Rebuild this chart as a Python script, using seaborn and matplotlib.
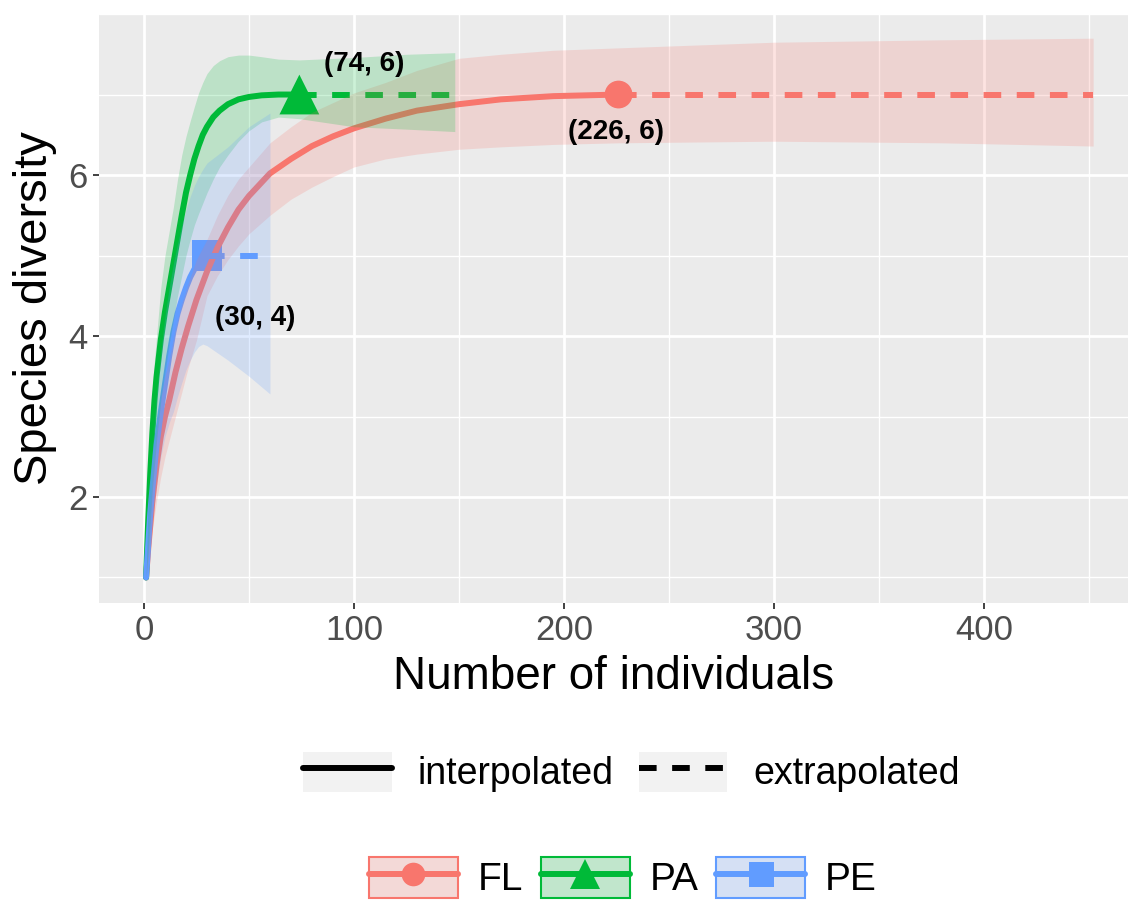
import pandas as pd
import seaborn as sns
import matplotlib.pyplot as plt
from matplotlib.lines import Line2D
from matplotlib.patches import Patch
from matplotlib.ticker import MultipleLocator

# sites, colours and observed points
sites = ["FL", "PA", "PE"]
site_colors = ["#F8766D", "#00BA38", "#619CFF"]
obs_m = [226, 74, 30]
obs_qd = [7.0, 7.0, 5.0]
obs_labels = ["(226, 6)", "(74, 6)", "(30, 4)"]

# FL rarefaction (interpolated) and extrapolation
fl_m = [1, 2, 3, 4, 6, 8, 10, 12, 15, 18, 21, 25, 30, 35, 40, 45, 50, 60, 70, 80, 90, 100,
        115, 130, 150, 170, 195, 226]
fl_qd = [1.0, 1.35, 1.65, 1.95, 2.4, 2.75, 3.0, 3.2, 3.55, 3.85, 4.12, 4.45, 4.8, 5.1, 5.35,
         5.57, 5.74, 6.02, 6.2, 6.36, 6.48, 6.58, 6.7, 6.8, 6.88, 6.94, 6.98, 7.0]
fl_lo = [1.0, 1.2, 1.4, 1.6, 1.95, 2.25, 2.5, 2.7, 3.0, 3.3, 3.6, 3.95, 4.5, 4.75, 4.95, 5.12,
         5.27, 5.5, 5.7, 5.85, 5.98, 6.1, 6.2, 6.26, 6.32, 6.35, 6.38, 6.4]
fl_hi = [1.0, 1.5, 1.9, 2.3, 2.85, 3.25, 3.5, 3.7, 4.1, 4.4, 4.65, 4.95, 5.2, 5.5, 5.75, 5.95,
         6.1, 6.4, 6.6, 6.78, 6.9, 7.02, 7.15, 7.3, 7.45, 7.5, 7.55, 7.58]
fl_ext_m = [226, 300, 380, 452]
fl_ext_qd = [7.0, 7.0, 7.0, 7.0]
fl_ext_lo = [6.4, 6.42, 6.4, 6.36]
fl_ext_hi = [7.58, 7.65, 7.68, 7.7]

# PA
pa_m = [1, 2, 3, 4, 5, 6, 8, 10, 12, 14, 16, 18, 20, 22, 24, 26, 28, 30, 33, 36, 40, 45,
        50, 56, 64, 74]
pa_qd = [1.0, 1.7, 2.3, 2.8, 3.2, 3.5, 3.95, 4.3, 4.6, 4.9, 5.2, 5.5, 5.78, 6.0, 6.2, 6.36,
         6.5, 6.6, 6.72, 6.8, 6.88, 6.94, 6.97, 6.99, 7.0, 7.0]
pa_lo = [1.0, 1.3, 1.7, 2.1, 2.4, 2.7, 3.2, 3.55, 3.9, 4.2, 4.5, 4.75, 5.0, 5.2, 5.38, 5.52,
         5.65, 5.78, 5.95, 6.1, 6.25, 6.42, 6.55, 6.66, 6.72, 6.7]
pa_hi = [1.0, 2.0, 2.8, 3.3, 3.7, 4.0, 4.6, 5.0, 5.3, 5.6, 5.95, 6.25, 6.48, 6.67, 6.85, 7.02,
         7.15, 7.26, 7.36, 7.42, 7.47, 7.49, 7.49, 7.47, 7.44, 7.43]
pa_ext_m = [74, 100, 125, 148]
pa_ext_qd = [7.0, 7.0, 7.0, 7.0]
pa_ext_lo = [6.7, 6.6, 6.57, 6.54]
pa_ext_hi = [7.43, 7.46, 7.5, 7.52]

# PE
pe_m = [1, 2, 3, 4, 6, 8, 10, 12, 14, 16, 18, 20, 22, 24, 26, 28, 30]
pe_qd = [1.0, 1.4, 1.8, 2.1, 2.65, 3.05, 3.4, 3.75, 4.05, 4.28, 4.45, 4.6, 4.73, 4.83, 4.91,
         4.97, 5.0]
pe_lo = [1.0, 1.2, 1.45, 1.7, 2.15, 2.5, 2.75, 2.92, 3.06, 3.25, 3.42, 3.58, 3.7, 3.8, 3.87,
         3.9, 3.88]
pe_hi = [1.0, 1.6, 2.15, 2.6, 3.3, 3.8, 4.25, 4.6, 4.9, 5.15, 5.38, 5.57, 5.73, 5.87, 5.98,
         6.07, 6.15]
pe_ext_m = [30, 40, 50, 60]
pe_ext_qd = [5.0, 5.0, 5.0, 5.0]
pe_ext_lo = [3.88, 3.7, 3.5, 3.28]
pe_ext_hi = [6.15, 6.35, 6.6, 6.77]

curves = {
    "FL": (fl_m, fl_qd, fl_lo, fl_hi, fl_ext_m, fl_ext_qd, fl_ext_lo, fl_ext_hi),
    "PA": (pa_m, pa_qd, pa_lo, pa_hi, pa_ext_m, pa_ext_qd, pa_ext_lo, pa_ext_hi),
    "PE": (pe_m, pe_qd, pe_lo, pe_hi, pe_ext_m, pe_ext_qd, pe_ext_lo, pe_ext_hi),
}

frames = []
for site, (m, qd, lo, hi, em, eqd, elo, ehi) in curves.items():
    frames.append(pd.DataFrame({"site": site, "m": m, "qD": qd, "lo": lo, "hi": hi,
                                "method": "interpolated"}))
    frames.append(pd.DataFrame({"site": site, "m": em, "qD": eqd, "lo": elo, "hi": ehi,
                                "method": "extrapolated"}))
df = pd.concat(frames, ignore_index=True)
obs = pd.DataFrame({"site": sites, "m": obs_m, "qD": obs_qd})

sns.set_theme(style="darkgrid", rc={
    "axes.facecolor": "#EBEBEB",
    "grid.color": "white",
    "axes.edgecolor": "white",
    "xtick.color": "#333333",
    "ytick.color": "#333333",
    "text.color": "black",
})
plt.rcParams["font.family"] = ["Liberation Sans", "DejaVu Sans"]

palette = dict(zip(sites, site_colors))
lw = 4.3
dash = (2.95, 2.6)

fig = plt.figure(figsize=(11.28, 9), dpi=100)
ax = fig.add_axes([0.0878, 0.33, 0.9122, 0.6544])

# observed points (below lines and ribbons, like ggiNEXT)
sns.scatterplot(data=obs, x="m", y="qD", hue="site", style="site", size="site",
                palette=palette, markers={"FL": "o", "PA": "^", "PE": "s"},
                sizes={"FL": 400, "PA": 820, "PE": 470}, linewidth=0,
                legend=False, ax=ax, zorder=2)

sns.lineplot(data=df, x="m", y="qD", hue="site", style="method", palette=palette,
             dashes={"interpolated": "", "extrapolated": dash}, estimator=None,
             linewidth=lw, legend=False, ax=ax, zorder=3)

for site in sites:
    sub = df[df["site"] == site].drop_duplicates("m").sort_values("m")
    ax.fill_between(sub["m"], sub["lo"], sub["hi"], color=palette[site], alpha=0.2,
                    linewidth=0, zorder=4)

offsets = [(-2, -27), (47, 22), (35, -45)]
for lab, x, y, off in zip(obs_labels, obs_m, obs_qd, offsets):
    ax.annotate(lab, (x, y), xytext=off, textcoords="offset points", ha="center",
                va="center", fontsize=20, fontweight="bold", color="black", zorder=6)

ax.set_xlim(-21.4, 468.6)
ax.set_ylim(0.683, 8.0)
ax.set_xticks([0, 100, 200, 300, 400])
ax.set_yticks([2, 4, 6])
ax.xaxis.set_minor_locator(MultipleLocator(50))
ax.yaxis.set_minor_locator(MultipleLocator(1))
ax.grid(which="major", color="white", linewidth=2.0)
ax.grid(which="minor", color="white", linewidth=1.0)
ax.tick_params(which="major", length=4, width=1.3, colors="#333333", labelcolor="#4D4D4D",
               labelsize=25, bottom=True, left=True, pad=4)
ax.tick_params(which="minor", length=0)
for s in ax.spines.values():
    s.set_visible(False)
ax.set_xlabel("Number of individuals", fontsize=33, color="black", labelpad=6)
ax.set_ylabel("Species diversity", fontsize=34, color="black", labelpad=8)

# linetype legend
gray_key = "#F2F2F2"
lt_handles = [
    (Patch(facecolor=gray_key, edgecolor="none"), Line2D([], [], color="black", lw=lw)),
    (Patch(facecolor=gray_key, edgecolor="none"),
     Line2D([], [], color="black", lw=lw, dashes=dash)),
]
fig.legend(lt_handles, ["interpolated", "extrapolated"], loc="center",
           bbox_to_anchor=(0.56, 0.142), ncol=2, frameon=False, fontsize=27,
           labelcolor="black", handlelength=2.35, handleheight=1.25, handletextpad=0.7,
           columnspacing=0.67)

# site legend
mk = {"FL": ("o", 17), "PA": ("^", 21), "PE": ("s", 18)}
site_handles = []
for site in sites:
    c = palette[site]
    site_handles.append((
        Patch(facecolor=gray_key, edgecolor="none"),
        Patch(facecolor=c, alpha=0.2, edgecolor="none"),
        Patch(facecolor="none", edgecolor=c, linewidth=1.5),
        Line2D([], [], color=c, lw=lw, marker=mk[site][0], markersize=mk[site][1],
               markeredgewidth=0),
    ))
fig.legend(site_handles, sites, loc="center", bbox_to_anchor=(0.552, 0.025), ncol=3,
           frameon=False, fontsize=28, labelcolor="black", handlelength=2.3,
           handleheight=1.25, handletextpad=0.5, columnspacing=0.45)

fig.savefig("out.png", dpi=100)
